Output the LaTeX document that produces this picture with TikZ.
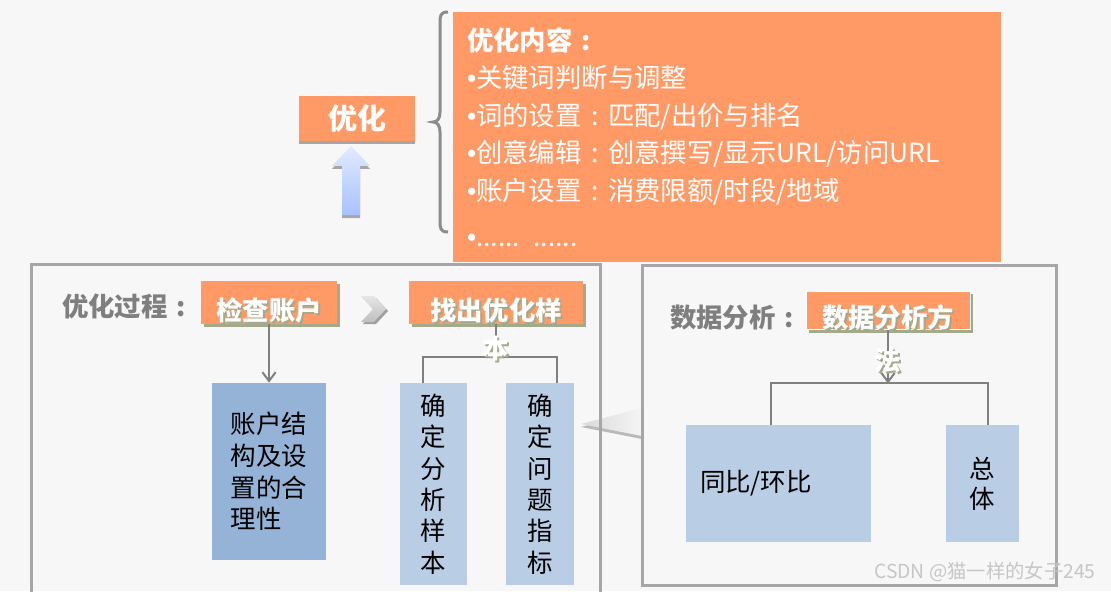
\documentclass[tikz,border=0pt]{standalone}
\usepackage{fontspec}
\setmainfont{Noto Sans CJK SC}
\newfontfamily\latinf{Liberation Sans}
\usetikzlibrary{positioning, arrows.meta, calc, shadows}
\definecolor{bgc}{HTML}{F7F7F7}
\definecolor{orangec}{HTML}{FF9966}
\definecolor{bluec}{HTML}{B9CDE5}
\definecolor{darkbluec}{HTML}{95B3D7}
\definecolor{framec}{HTML}{A6A6A6}
\definecolor{linec}{HTML}{7F7F7F}
\definecolor{shadowc}{HTML}{A3AA8C}
\definecolor{uptop}{HTML}{E2EAFF}
\definecolor{upbot}{HTML}{A6C2FF}
\newcommand\shtxt[1]{\leavevmode\rlap{\kern1.2pt\raisebox{-1.2pt}{\color{shadowc}#1}}#1}
\newcommand\bul{{\latinf •}}
\newcommand\fwc{\hbox to 1em{\hss:\hss}}

\begin{document}
\begin{tikzpicture}[x=0.02cm,y=-0.02cm,tag/.style={fill=orangec,minimum height=0.86cm,inner sep=0pt,drop shadow={fill=shadowc,opacity=1,shadow xshift=0.06cm,shadow yshift=-0.06cm}},tagtext/.style={text=white,font=\fontsize{15}{22}\selectfont\bfseries,align=center,inner sep=0pt},cell/.style={fill=bluec,inner sep=0pt,align=center,font=\fontsize{14.5}{17.9}\selectfont},heading/.style={text=linec,font=\fontsize{15}{18}\selectfont\bfseries,anchor=west},conn/.style={draw=linec,line width=0.04cm},arrow/.style={conn,-{Straight Barb[length=5pt,width=7.5pt]}},frame/.style={draw=framec,line width=0.06cm}]
\useasboundingbox (0,0) rectangle (1111,591);
\clip (0,0) rectangle (1111,591);
\fill[bgc] (0,0) rectangle (1111,591);
\fill[gray!55] (581,427) -- (642,411) -- (642,439) -- cycle;
\shade[left color=gray!30,right color=gray!8] (581,424) -- (642,408) -- (642,436) -- cycle;
\draw[frame] (31,264) rectangle (600,620);
\draw[frame] (642,265) rectangle (1056,585);
\node[fill=orangec,text=white,align=left,text width=10.4cm,inner xsep=0.28cm,minimum height=5cm,font=\fontsize{15}{21.3}\selectfont] (content) at (727,137) {\textbf{优化内容\fwc}\\\bul 关键词判断与调整\\\bul 词的设置\fwc 匹配/出价与排名\\\bul 创意编辑\fwc 创意撰写/显示URL/访问URL\\\bul 账户设置\fwc 消费限额/时段/地域\\[4.8pt]\bul...... ......};
\draw[draw=linec!90,line width=0.06cm] (448,12) .. controls (440,12) and (440,16) .. (440,24) -- (440,112) .. controls (440,119) and (437,122) .. (433,122) .. controls (437,122) and (440,125) .. (440,132) -- (440,220) .. controls (440,228) and (440,232) .. (448,232);
\node[fill=orangec,text=white,font=\fontsize{16.5}{20}\selectfont\bfseries,minimum width=2.32cm,minimum height=0.9cm,inner sep=0pt,drop shadow={fill=framec,opacity=1,shadow xshift=0cm,shadow yshift=-0.06cm}] (opt) at (357,118.5) {优化};
\fill[framec] (342,218) -- (342,169) -- (332,169) -- (351,149) -- (370,169) -- (360,169) -- (360,218) -- cycle;
\shade[top color=uptop,bottom color=upbot] (342,215) -- (342,166) -- (332,166) -- (351,146) -- (370,166) -- (360,166) -- (360,215) -- cycle;
\fill[gray!75] (363,298) -- (376,298) -- (388,311) -- (376,324) -- (363,324) -- (375,311) -- cycle;
\shade[top color=gray!20,bottom color=gray!50] (361,296) -- (374,296) -- (386,309) -- (374,322) -- (361,322) -- (373,309) -- cycle;
\node[heading] (proc) at (56,306) {优化过程\fwc};
\node[heading] (anal) at (664,318) {数据分析\fwc};
\node[tag,minimum width=2.72cm] (chk) at (269,302.5) {};
\node[tag,minimum width=3.48cm] (smp) at (496,302.5) {};
\node[tag,minimum width=3.28cm,minimum height=0.78cm,draw=white,line width=0.02cm] (mth) at (888,310.5) {};
\node[cell,fill=darkbluec,minimum width=2.28cm,minimum height=3.54cm,align=left,font=\fontsize{14.5}{18.1}\selectfont] (acct) at (269,471.5) {账户结\\构及设\\置的合\\理性};
\node[cell,minimum width=1.34cm,minimum height=4.04cm] (smpa) at (433.5,484) {确\\定\\分\\析\\样\\本};
\node[cell,minimum width=1.36cm,minimum height=4.04cm] (smpb) at (540,484) {确\\定\\问\\题\\指\\标};
\node[cell,text width=3.14cm,inner xsep=0.28cm,minimum height=2.34cm,align=left] (yoy) at (778.5,483.5) {同比/环比};
\node[cell,minimum width=1.46cm,minimum height=2.34cm,font=\fontsize{14.5}{17}\selectfont] (tot) at (982.5,483.5) {总\\体};
\draw[arrow] (chk.south) -- (acct.north);
\draw[conn] (smp.south) -- ++(0,33) coordinate (smpjoin);
\draw[conn] ([xshift=-0.21cm]smpa.north) |- (smpjoin) -| ([xshift=0.34cm]smpb.north);
\draw[arrow] (mth.south) -- ++(0,53) coordinate (mthjoin);
\draw[conn] ([xshift=-0.15cm]yoy.north) |- (mthjoin) -| ([xshift=0.11cm]tot.north);
\node[tagtext] (chktext) at (269,311) {\shtxt{检查账户}};
\node[tagtext] (smptext) at (496,330.5) {\shtxt{找出优化样}\\\shtxt{本}};
\node[tagtext,font=\fontsize{15}{24.4}\selectfont\bfseries] (mthtext) at (888,339.5) {\shtxt{数据分析方}\\\shtxt{法}};
\node[text=gray!45,font=\fontsize{11}{13}\selectfont] (mark) at (985,572) {CSDN @猫一样的女子245};
\end{tikzpicture}
\end{document}
